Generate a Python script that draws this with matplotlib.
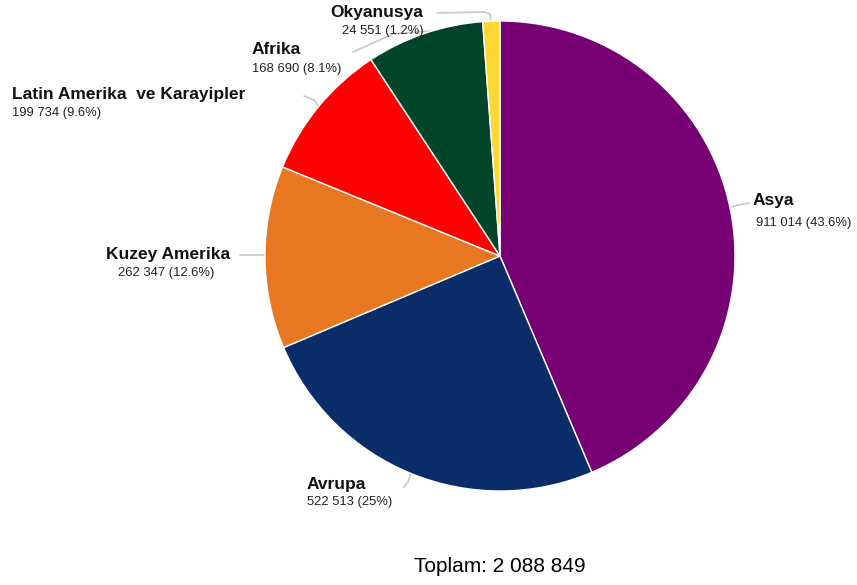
import matplotlib.pyplot as plt

regions = ['Asya', 'Avrupa', 'Kuzey Amerika', 'Latin Amerika  ve Karayipler', 'Afrika', 'Okyanusya']
values = [911014, 522513, 262347, 199734, 168690, 24551]
percents = ['43.6%', '25%', '12.6%', '9.6%', '8.1%', '1.2%']
colors = ['#770074', '#0A2D69', '#E87722', '#FF0000', '#00452A', '#FDD835']
total = 2088849

plt.rcParams['font.family'] = ['Liberation Sans', 'DejaVu Sans']

W, H = 857, 585
fig = plt.figure(figsize=(W / 100, H / 100), dpi=100)
ax = fig.add_axes([0, 0, 1, 1])

cx, cy, r = 500, H - 256, 235
wedges, _ = ax.pie(values, colors=colors, startangle=90, counterclock=False,
                   center=(cx, cy), radius=r, frame=True,
                   wedgeprops=dict(edgecolor='white', linewidth=1))
ax.set_xlim(0, W)
ax.set_ylim(0, H)
ax.set_aspect('equal')
ax.axis('off')

def fmt(v):
    return f'{v:,}'.replace(',', ' ')

# label anchors (x, y of name, x, y of value, ha)
label_pos = {
    'Asya': (753, 201, 756, 223, 'left'),
    'Avrupa': (307, 485, 307, 502, 'left'),
    'Kuzey Amerika': (168, 255, 166, 273, 'center'),
    'Latin Amerika  ve Karayipler': (12, 95, 12, 113, 'left'),
    'Afrika': (252, 50, 252, 69, 'left'),
    'Okyanusya': (330, 12, 342, 31, 'left'),
}

# leader line paths, in pixel coordinates from the top
leaders = {
    'Asya': [(728, 208), (738, 205), (749, 203)],
    'Avrupa': [(411, 473), (408, 482), (404, 487)],
    'Kuzey Amerika': [(266, 255), (240, 255)],
    'Latin Amerika  ve Karayipler': [(320, 108), (314, 100), (304, 96)],
    'Afrika': [(431, 31), (393, 34), (353, 52)],
    'Okyanusya': [(491, 21), (490, 14), (484, 12), (437, 13)],
}

for name, val, pct in zip(regions, values, percents):
    nx, ny, vx, vy, ha = label_pos[name]
    pts = leaders[name]
    ax.plot([p[0] for p in pts], [H - p[1] for p in pts], color='#c8c8c8',
            linewidth=1.2, zorder=1, solid_capstyle='round')
    ax.text(nx, H - ny, name, ha=ha, va='center', fontsize=12.5, fontweight='bold',
            color='#111111')
    ax.text(vx, H - vy, f'{fmt(val)} ({pct})', ha=ha, va='center', fontsize=9.4,
            color='#222222')

for w in wedges:
    w.set_zorder(2)

ax.text(500, H - 566, f'Toplam: {fmt(total)}', ha='center', va='center',
        fontsize=15, color='#000000')

fig.savefig('out.png', dpi=100)
